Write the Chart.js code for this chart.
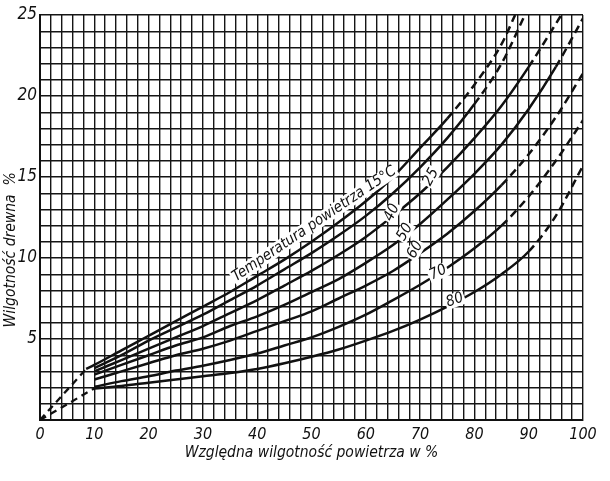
<!DOCTYPE html>
<html><head><meta charset="utf-8">
<script src="https://cdn.jsdelivr.net/npm/chart.js@4"></script>
<style>html,body{margin:0;padding:0;background:#fff;}</style>
</head><body>
<canvas id="c" width="610" height="481" style="width:610px;height:481px;display:block"></canvas>
<script>
// Relative air humidity (%) and wood moisture content (%) per air temperature
const temps = ['15', '25', '40', '50', '60', '70', '80'];
const rh15 = [8.5, 10, 15, 20, 25, 30, 35, 40, 45, 50, 55, 60, 65, 70, 75, 80, 85, 87.5];
const mc15 = [3.15, 3.4, 4.3, 5.2, 6.1, 7.0, 7.9, 8.9, 9.9, 11.0, 12.2, 13.5, 15.0, 16.8, 18.6, 20.7, 23.2, 25];
const rh25 = [10, 15, 20, 25, 30, 35, 40, 45, 50, 55, 60, 65, 70, 75, 80, 85, 89.3];
const mc25 = [3.2, 4.0, 4.9, 5.7, 6.5, 7.4, 8.3, 9.3, 10.3, 11.4, 12.6, 14.0, 15.6, 17.4, 19.5, 22.0, 25];
const rh40 = [10, 15, 20, 25, 30, 35, 40, 45, 50, 55, 60, 65, 70, 75, 80, 85, 90, 96];
const mc40 = [3.0, 3.7, 4.4, 5.1, 5.8, 6.6, 7.4, 8.3, 9.2, 10.2, 11.3, 12.6, 14.0, 15.6, 17.4, 19.4, 21.8, 25];
const rh50 = [10, 15, 20, 25, 30, 35, 40, 45, 50, 55, 60, 65, 70, 75, 80, 85, 90, 95, 100];
const mc50 = [2.8, 3.4, 4.0, 4.6, 5.1, 5.8, 6.4, 7.1, 7.9, 8.7, 9.7, 10.8, 12.1, 13.6, 15.2, 17.0, 19.2, 21.8, 24.8];
const rh60 = [10, 15, 20, 25, 30, 35, 40, 45, 50, 55, 60, 65, 70, 75, 80, 85, 90, 95, 100];
const mc60 = [2.5, 3.0, 3.5, 4.0, 4.4, 4.9, 5.5, 6.1, 6.7, 7.5, 8.3, 9.2, 10.3, 11.5, 12.9, 14.5, 16.4, 18.7, 21.4];
const rh70 = [10, 15, 20, 25, 30, 35, 40, 45, 50, 55, 60, 65, 70, 75, 80, 85, 90, 95, 100];
const mc70 = [2.05, 2.4, 2.7, 3.05, 3.35, 3.7, 4.1, 4.6, 5.1, 5.75, 6.5, 7.4, 8.35, 9.4, 10.6, 12.0, 13.8, 16.0, 18.5];
const rh80 = [10, 15, 20, 25, 30, 35, 40, 45, 50, 55, 60, 65, 70, 75, 80, 85, 90, 95, 100];
const mc80 = [1.95, 2.1, 2.3, 2.5, 2.7, 2.9, 3.15, 3.5, 3.9, 4.35, 4.9, 5.5, 6.2, 7.0, 7.9, 9.0, 10.4, 12.6, 15.7];
// humidity above which each curve is drawn dashed (extrapolated part)
const dashFrom = [72, 80, 88, 91, 85, 85, 88];
// dashed connectors from the origin
const upperLinkRh = [0, 8.5];
const upperLinkMc = [0, 3.15];
const lowerLinkRh = [0, 10];
const lowerLinkMc = [0, 1.95];
// axis tick labels
const xTickLabels = [0, 10, 20, 30, 40, 50, 60, 70, 80, 90, 100];
const yTickLabels = [5, 10, 15, 20, 25];

const series = [[rh15, mc15], [rh25, mc25], [rh40, mc40], [rh50, mc50], [rh60, mc60], [rh70, mc70], [rh80, mc80]];
const pts = (xs, ys) => xs.map((x, i) => ({x, y: ys[i]}));

const INK = '#111';
const DASH = [8, 5];
const datasets = series.map(([xs, ys], i) => ({
  label: temps[i] + '°C',
  data: pts(xs, ys),
  borderColor: INK,
  borderWidth: 2.5,
  pointRadius: 0,
  cubicInterpolationMode: 'monotone',
  segment: { borderDash: ctx => ctx.p0.parsed.x >= dashFrom[i] ? DASH : undefined }
}));
datasets.push({ data: pts(upperLinkRh, upperLinkMc), borderColor: INK, borderWidth: 2.3, pointRadius: 0, borderDash: [7, 5] });
datasets.push({ data: pts(lowerLinkRh, lowerLinkMc), borderColor: INK, borderWidth: 2.3, pointRadius: 0, borderDash: [7, 5] });

// text annotations (anchored in data coordinates), written inline on the curves
const notes = [
  { text: 'Temperatura powietrza 15°C', x: 50.5, y: 12.1, rot: -34 },
  { text: '25', x: 72.0, y: 15.0, rot: -62 },
  { text: '40', x: 64.8, y: 12.8, rot: -65 },
  { text: '50', x: 67.2, y: 11.6, rot: -60 },
  { text: '60', x: 69.1, y: 10.5, rot: -60 },
  { text: '70', x: 73.3, y: 9.1, rot: -25 },
  { text: '80', x: 76.4, y: 7.4, rot: -20 }
];
const FAMILY = '"Liberation Sans Narrow", "DejaVu Sans Condensed", sans-serif';
const LABEL_FONT = 'italic 15px ' + FAMILY;
const YTITLE = 'Wilgotność drewna  %';

const notePlugin = {
  id: 'notes',
  afterDatasetsDraw(chart) {
    const {ctx, scales: {x, y}} = chart;
    ctx.save();
    ctx.font = LABEL_FONT;
    ctx.textAlign = 'center';
    ctx.textBaseline = 'middle';
    notes.forEach(n => {
      const px = x.getPixelForValue(n.x), py = y.getPixelForValue(n.y);
      ctx.save();
      ctx.translate(px, py);
      ctx.rotate(n.rot * Math.PI / 180);
      const w = ctx.measureText(n.text).width;
      ctx.fillStyle = '#fff';
      ctx.fillRect(-w / 2 - 1.5, -7, w + 3, 14);
      ctx.fillStyle = INK;
      ctx.fillText(n.text, 0, 0);
      ctx.restore();
    });
    ctx.restore();
  },
  afterDraw(chart) {
    const {ctx, chartArea} = chart;
    ctx.save();
    ctx.font = 'italic 15.5px ' + FAMILY;
    ctx.fillStyle = INK;
    ctx.textAlign = 'center';
    ctx.textBaseline = 'middle';
    ctx.translate(11, chartArea.top + (chartArea.bottom - chartArea.top) * 0.58);
    ctx.rotate(-Math.PI / 2);
    ctx.fillText(YTITLE, 0, 0);
    ctx.restore();
  }
};

const tickFont = { family: FAMILY, size: 16, style: 'italic' };

new Chart(document.getElementById('c'), {
  type: 'line',
  data: { datasets },
  plugins: [notePlugin],
  options: {
    responsive: false,
    animation: false,
    layout: { padding: { top: 15, right: 27, left: 0, bottom: 0 } },
    plugins: { legend: { display: false }, tooltip: { enabled: false } },
    scales: {
      x: {
        type: 'linear', min: 0, max: 100,
        ticks: {
          stepSize: 2, autoSkip: false, maxRotation: 0, padding: 5, color: INK, font: tickFont,
          callback: v => xTickLabels.includes(v) ? String(v) : ''
        },
        grid: { color: '#151515', lineWidth: 1.4, drawTicks: false },
        border: { color: INK, width: 2 },
        title: { display: true, text: 'Względna wilgotność powietrza w %', color: INK, font: { ...tickFont, size: 15.5 }, padding: { top: 0, bottom: 19 } },
        afterFit: s => { s.height = 61; }
      },
      y: {
        type: 'linear', min: 0, max: 25,
        ticks: {
          stepSize: 1, autoSkip: false, padding: 3, color: INK, font: { ...tickFont, size: 17 },
          callback: v => yTickLabels.includes(v) ? String(v) : ''
        },
        grid: { color: '#151515', lineWidth: 1.4, drawTicks: false },
        border: { color: INK, width: 2 },
        afterFit: s => { s.width = 40; }
      }
    }
  }
});
</script>
</body></html>
